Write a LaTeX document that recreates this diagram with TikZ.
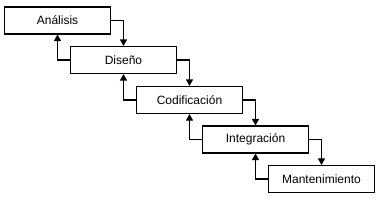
\documentclass[tikz,border=0pt]{standalone}
\usepackage{fontspec}
\setmainfont{Liberation Sans}
\usetikzlibrary{arrows.meta}
\begin{document}
\begin{tikzpicture}[x=1pt,y=-1pt,
  phase/.style={draw,line width=1.1pt,minimum width=106pt,minimum height=27pt,inner sep=0pt,font=\fontsize{12}{14}\selectfont},
  flow/.style={line width=1.1pt,-{Triangle[length=6.5pt,width=7pt]}}]
\useasboundingbox (0,0) rectangle (382,201);
\node[phase] (a) at (57.5,20.5) {Análisis};
\node[phase] (b) at (123.5,60) {Diseño};
\node[phase] (c) at (189.5,100) {Codificación};
\node[phase] (d) at (255.5,139.5) {Integración};
\node[phase] (e) at (321.5,179) {Mantenimiento};
\foreach \u/\v in {a/b,b/c,c/d,d/e}{
  \draw[flow] (\u.east) -| (\v.north);
  \draw[flow] (\v.west) -| (\u.south);
}
\end{tikzpicture}
\end{document}
